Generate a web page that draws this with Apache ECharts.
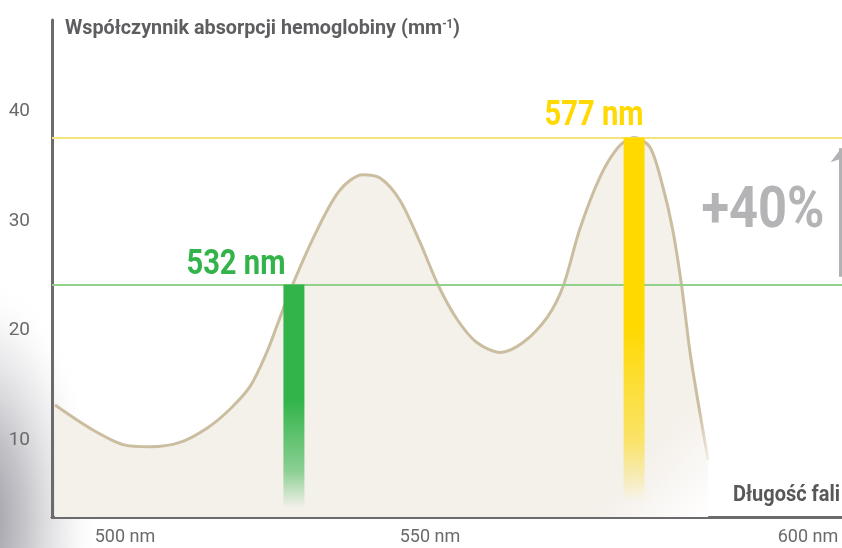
<!DOCTYPE html>
<html>
<head>
<meta charset="utf-8">
<script src="https://cdn.jsdelivr.net/npm/echarts@6/dist/echarts.min.js"></script>
<style>
html,body{margin:0;padding:0;background:#fff;overflow:hidden;}
#chart{width:100vw;height:100vh;}
</style>
</head>
<body>
<div id="chart"></div>
<script>
// ---- data ----
const wavelengths = [500.4, 505.0, 509.4, 513.0, 516.9, 520.5, 523.5, 526.2, 528.4, 529.9, 531.9, 535.1, 538.1, 541.1, 543.4, 546.0, 548.7, 551.1, 553.6, 556.2, 559.3, 562.3, 565.5, 567.6, 569.8, 572.5, 574.9, 577.0, 579.1, 580.8, 582.1, 583.3, 584.4, 585.7, 586.8];
const absorption  = [13.2, 11.1, 9.6, 9.4, 9.8, 11.1, 12.8, 14.9, 18.0, 20.7, 24.3, 29.2, 32.8, 34.2, 33.9, 31.9, 28.0, 24.1, 21.0, 18.9, 18.0, 18.9, 21.2, 24.0, 29.2, 34.0, 36.7, 37.6, 36.7, 33.1, 29.2, 24.0, 18.0, 12.5, 8.2];
const laserWavelengths = [532, 577];
const laserAbsorption  = [24.2, 37.6];
const laserLabels = ['532 nm', '577 nm'];
const xTickValues = [500, 550, 600];
const yTickValues = [10, 20, 30, 40];
const arrowRange = [24.9, 36.6];
const arrowWavelength = 604.4;
const increaseLabel = '+40%';
const yTitleMain = 'Współczynnik absorpcji hemoglobiny (mm';
const yTitleSup = '-1';
const yTitleEnd = ')';
const xTitle = 'Długość fali';

const FONT = "Roboto, 'DejaVu Sans Condensed', sans-serif";
const GREEN = '#33b44a';
const YELLOW = '#ffd900';

const mctx = document.createElement('canvas').getContext('2d');
function measure(text, font) { mctx.font = font; return mctx.measureText(text).width; }
function squeeze(text, font, target) { return target / measure(text, font); }

function fade(c, rgb) {
  return {
    type: 'linear', x: 0, y: 0, x2: 0, y2: 1,
    colorStops: [
      { offset: 0, color: c },
      { offset: 0.5, color: c },
      { offset: 0.8, color: 'rgba(' + rgb + ',0.55)' },
      { offset: 0.96, color: 'rgba(' + rgb + ',0)' },
      { offset: 1, color: 'rgba(' + rgb + ',0)' }
    ]
  };
}
const laserColors = [GREEN, YELLOW];
const laserRgb = ['51,180,74', '255,217,0'];

const chart = echarts.init(document.getElementById('chart'));
chart.setOption({
  backgroundColor: '#ffffff',
  animation: false,
  grid: { left: 52, right: 0, top: 20, bottom: 31, containLabel: false },
  xAxis: {
    type: 'value', min: 500, max: 604.5,
    axisLine: { show: true, lineStyle: { color: '#6b6b6e', width: 3 } },
    axisTick: { show: false },
    splitLine: { show: false },
    axisLabel: {
      customValues: xTickValues,
      margin: 11,
      fontFamily: FONT, fontSize: 18, color: '#6a6a6c',
      formatter: function (v) { return v === xTickValues[0] ? '{first|' + v + ' nm}' : v + ' nm'; },
      rich: { first: { fontFamily: FONT, fontSize: 18, color: '#6a6a6c', padding: [0, 0, 0, 146] } }
    }
  },
  yAxis: {
    type: 'value', min: 3, max: 48.3,
    axisLine: { show: true, lineStyle: { color: '#6b6b6e', width: 3 } },
    axisTick: { show: false },
    splitLine: { show: false },
    axisLabel: {
      customValues: yTickValues,
      margin: 22,
      fontFamily: FONT, fontSize: 19, color: '#6a6a6c'
    }
  },
  series: [
    {
      type: 'line', z: 2,
      data: wavelengths.map((w, i) => [w, absorption[i]]),
      smooth: 0.3, symbol: 'none',
      lineStyle: {
        width: 3,
        color: {
          type: 'linear', x: 0.9, y: 0.8, x2: 1, y2: 1,
          colorStops: [
            { offset: 0, color: '#cbbd9f' },
            { offset: 0.5, color: '#cbbd9f' },
            { offset: 1, color: 'rgba(203,189,159,0.15)' }
          ]
        }
      },
      areaStyle: {
        opacity: 1, origin: 'start',
        color: {
          type: 'linear', x: 0.8, y: 0.7, x2: 1, y2: 1,
          colorStops: [
            { offset: 0, color: '#f4f0ea' },
            { offset: 0.5, color: '#f4f0ea' },
            { offset: 1, color: '#ffffff' }
          ]
        }
      },
      markLine: {
        silent: true, symbol: 'none', animation: false,
        label: { show: false },
        data: [
          { yAxis: laserAbsorption[0], lineStyle: { color: '#92d18b', width: 2, type: 'solid' } },
          { yAxis: laserAbsorption[1], lineStyle: { color: '#f3e57a', width: 2, type: 'solid' } }
        ]
      }
    },
    {
      type: 'bar', z: 5, barWidth: 21,
      data: laserWavelengths.map((w, i) => ({
        value: [w, laserAbsorption[i]],
        itemStyle: { color: fade(laserColors[i], laserRgb[i]) }
      })),
      markLine: {
        silent: true, animation: false,
        symbol: ['none', 'arrow'], symbolSize: [16, 14],
        label: { show: false },
        lineStyle: { color: '#b2b2b5', width: 5, type: 'solid' },
        data: [[{ coord: [arrowWavelength, arrowRange[0]] }, { coord: [arrowWavelength, arrowRange[1]] }]]
      }
    }
  ]
});

// ---- texts (condensed look via horizontal scaling) ----
const titleFont = 'bold 21px Roboto';
const supFont = 'bold 12px Roboto';
const titleW = measure(yTitleMain + yTitleEnd, titleFont) + measure(yTitleSup, supFont);
const titleScale = 395 / titleW;

const labelFont = 'bold 35px Roboto';
const labelTargets = [99, 99];
const labelDx = [-58, -40];
const labelDy = [-19, -21];

const graphics = [
  {
    type: 'rect', silent: true, z: -10,
    x: -25, y: 520, scaleX: 1.25, scaleY: 2.5,
    shape: { x: -100, y: -100, width: 200, height: 200 },
    style: {
      fill: {
        type: 'radial', x: 0.5, y: 0.5, r: 0.5,
        colorStops: [
          { offset: 0, color: 'rgba(135,135,145,0.95)' },
          { offset: 0.4, color: 'rgba(165,165,173,0.65)' },
          { offset: 0.75, color: 'rgba(200,200,205,0.25)' },
          { offset: 1, color: 'rgba(255,255,255,0)' }
        ]
      }
    }
  },
  {
    type: 'text', x: 65, y: 29, scaleX: titleScale, z: 10,
    style: {
      text: yTitleMain + '{sup|' + yTitleSup + '}' + yTitleEnd,
      font: titleFont, fill: '#5e5e61', textAlign: 'left', textVerticalAlign: 'middle',
      rich: { sup: { font: supFont, fill: '#5e5e61', padding: [0, 0, 9, 0] } }
    }
  },
  {
    type: 'text', x: 840, y: 495, z: 10,
    scaleX: squeeze(xTitle, 'bold 22px Roboto', 107),
    style: { text: xTitle, font: 'bold 22px Roboto', fill: '#58585a', textAlign: 'right', textVerticalAlign: 'middle' }
  },
  {
    type: 'text', x: 763, y: 213, z: 10,
    scaleX: squeeze(increaseLabel, 'bold 57px Roboto', 123),
    style: { text: increaseLabel, font: 'bold 57px Roboto', fill: '#b4b4b7', textAlign: 'center', textVerticalAlign: 'middle' }
  }
];
laserWavelengths.forEach(function (w, i) {
  const p = chart.convertToPixel({ gridIndex: 0 }, [w, laserAbsorption[i]]);
  graphics.push({
    type: 'text', x: p[0] + labelDx[i], y: p[1] + labelDy[i], z: 10,
    scaleX: squeeze(laserLabels[i], labelFont, labelTargets[i]),
    style: { text: laserLabels[i], font: labelFont, fill: laserColors[i], textAlign: 'center', textVerticalAlign: 'middle' }
  });
});
chart.setOption({ graphic: graphics });
</script>
</body>
</html>
